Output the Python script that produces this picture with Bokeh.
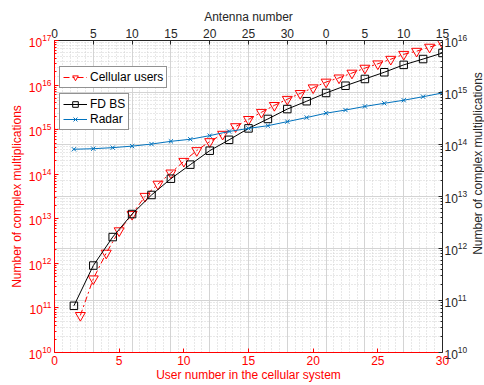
import math
from bokeh.plotting import figure
from bokeh.layouts import row
from bokeh.models import (Range1d, LogScale, LinearScale, LinearAxis, LogAxis, FixedTicker,
                          Grid, Legend, LegendItem, Label)
from bokeh.embed import file_html
from bokeh.resources import INLINE

# ---------------- data ----------------
users_x = [2, 3, 4, 5, 6, 7, 8, 9, 10, 11, 12, 13, 14, 15, 16, 17, 18, 19, 20,
           21, 22, 23, 24, 25, 26, 27, 28, 29, 30]
users_mults = [6.8e10, 4.5e11, 1.7e12, 5.4e12, 1.26e13, 3.2e13, 6.0e13, 1.07e14,
               1.95e14, 3.4e14, 5.4e14, 7.9e14, 1.17e15, 1.7e15, 2.45e15, 3.5e15,
               4.8e15, 6.5e15, 8.7e15, 1.17e16, 1.45e16, 1.86e16, 2.4e16, 3.0e16,
               3.8e16, 4.9e16, 5.75e16, 7.1e16, 8.7e16]

antenna_x = [1.5, 3, 4.5, 6, 7.5, 9, 10.5, 12, 13.5, 15, 16.5, 18, 19.5, 21, 22.5,
             24, 25.5, 27, 28.5, 30]
fdbs_mults = [7.9e10, 4.7e11, 1.66e12, 4.6e12, 1.07e13, 2.2e13, 4.1e13, 7.6e13,
              1.23e14, 2.04e14, 3.1e14, 4.8e14, 6.8e14, 9.8e14, 1.35e15, 1.82e15,
              2.45e15, 3.4e15, 4.4e15, 5.75e15]
radar_mults = [8.1e13, 8.3e13, 8.7e13, 9.3e13, 1.02e14, 1.15e14, 1.26e14, 1.48e14,
               1.78e14, 2.04e14, 2.3e14, 2.75e14, 3.3e14, 4.0e14, 4.6e14, 5.4e14,
               6.2e14, 7.1e14, 8.3e14, 9.8e14]

bottom_ticks = [0, 5, 10, 15, 20, 25, 30]
top_tick_labels = ["0", "5", "10", "15", "20", "25", "30", "0", "5", "10", "15"]
left_exponents = [10, 11, 12, 13, 14, 15, 16, 17]
right_exponents = [10, 11, 12, 13, 14, 15, 16]

# ---------------- styling ----------------
RED = "#ff0000"
BLUE = "#0072bd"
DARK = "#262626"
FONT = "Liberation Sans"
FW, FH = 388, 312
TOP, LEFT, RIGHT, BOTTOM = 40, 54, 26, 33
SIDE_W = 15
TOTAL_H = TOP + FH + BOTTOM


def log_ticks(exps):
    major = [10.0 ** e for e in exps]
    minor = [m * 10.0 ** e for e in exps[:-1] for m in range(2, 10)]
    return major, minor


p = figure(frame_width=FW, frame_height=FH,
           x_range=Range1d(0, 30), y_range=Range1d(1e10, 1e17),
           y_axis_type="log", x_axis_type="linear",
           x_axis_location=None, y_axis_location=None,
           output_backend="svg", toolbar_location=None,
           min_border_left=LEFT, min_border_right=RIGHT, min_border_top=TOP,
           min_border_bottom=BOTTOM)
p.outline_line_color = None
p.grid.visible = False
p.background_fill_color = "white"

p.extra_y_ranges = {"right": Range1d(1e10, 1e16)}
p.extra_y_scales = {"right": LogScale()}
p.extra_x_ranges = {"top": Range1d(0, len(top_tick_labels) - 1)}
p.extra_x_scales = {"top": LinearScale()}

# grids
n_top = len(top_tick_labels)
vgrid = Grid(dimension=0, x_range_name="top",
             ticker=FixedTicker(ticks=list(range(n_top)),
                                minor_ticks=[i / 5 for i in range(5 * (n_top - 1) + 1)]),
             grid_line_color="#d4d4d4", grid_line_width=1,
             minor_grid_line_color="#d0d0d0", minor_grid_line_dash="1 2", minor_grid_line_width=1)
rmaj, rmin = log_ticks(right_exponents)
hgrid = Grid(dimension=1, y_range_name="right",
             ticker=FixedTicker(ticks=rmaj, minor_ticks=rmin),
             grid_line_color="#d4d4d4", grid_line_width=1,
             minor_grid_line_color="#d0d0d0", minor_grid_line_dash="1 2", minor_grid_line_width=1)
p.add_layout(vgrid)
p.add_layout(hgrid)


def style_axis(ax, color, minor=True):
    ax.axis_line_color = color
    ax.axis_line_width = 1
    ax.major_tick_line_color = color
    ax.major_tick_in = 4
    ax.major_tick_out = 0
    if minor:
        ax.minor_tick_line_color = color
        ax.minor_tick_in = 2
        ax.minor_tick_out = 0
    else:
        ax.minor_tick_line_color = None
    ax.major_label_text_color = color
    ax.major_label_text_font = FONT
    ax.major_label_text_font_size = "12px"
    ax.major_label_standoff = 3
    ax.axis_label_text_color = color
    ax.axis_label_text_font = FONT
    ax.axis_label_text_font_size = "12px"
    ax.axis_label_text_font_style = "normal"
    ax.axis_label_standoff = 2


lmaj, lmin = log_ticks(left_exponents)
left_ax = LogAxis(ticker=FixedTicker(ticks=lmaj, minor_ticks=lmin),
                  axis_label="Number of complex multiplications")
style_axis(left_ax, RED)
p.add_layout(left_ax, "left")

right_ax = LogAxis(y_range_name="right", ticker=FixedTicker(ticks=rmaj, minor_ticks=rmin))
style_axis(right_ax, DARK)
right_ax.major_label_standoff = 2
p.add_layout(right_ax, "right")

bottom_ax = LinearAxis(ticker=FixedTicker(ticks=bottom_ticks),
                       axis_label="User number in the cellular system")
style_axis(bottom_ax, RED, minor=False)
bottom_ax.major_label_standoff = 3
bottom_ax.axis_label_standoff = 0
p.add_layout(bottom_ax, "below")

top_ax = LinearAxis(x_range_name="top", ticker=FixedTicker(ticks=list(range(n_top))),
                    axis_label="Antenna number")
style_axis(top_ax, DARK, minor=False)
top_ax.major_label_overrides = {i: lab for i, lab in enumerate(top_tick_labels)}
p.add_layout(top_ax, "above")

# series
u_line = p.line(users_x, users_mults, line_color=RED, line_width=1, line_dash="6 3 2 3")
u_mark = p.scatter(users_x, users_mults, marker="inverted_triangle", size=10,
                   line_color=RED, line_width=1, fill_color=None)

b_line = p.line(antenna_x, fdbs_mults, line_color="black", line_width=1, y_range_name="right")
b_mark = p.scatter(antenna_x, fdbs_mults, marker="square", size=7.5, line_color="black",
                   line_width=1, fill_color=None, y_range_name="right")

r_line = p.line(antenna_x, radar_mults, line_color=BLUE, line_width=1, y_range_name="right")
r_mark = p.scatter(antenna_x, radar_mults, marker="x", size=6, line_color=BLUE,
                   line_width=1, y_range_name="right")


def make_legend(items, loc):
    return Legend(items=items, location=loc, orientation="vertical",
                  label_text_font=FONT, label_text_font_size="12px",
                  label_text_color="#000000", label_standoff=3,
                  glyph_width=24, glyph_height=14, label_height=14,
                  padding=3, spacing=1, margin=0,
                  border_line_color=DARK, border_line_width=1,
                  background_fill_color="white", background_fill_alpha=1.0)


# location = bottom-left corner of each legend box, in pixels from the frame's bottom-left
leg1 = make_legend([LegendItem(label="Cellular users", renderers=[u_line, u_mark])], (5, FH - 48))
leg2 = make_legend([LegendItem(label="FD BS", renderers=[b_line, b_mark]),
                    LegendItem(label="Radar", renderers=[r_line, r_mark])], (5, FH - 90))
p.add_layout(leg1)
p.add_layout(leg2)

# narrow side strip carrying the right-hand axis title (reads bottom to top)
side = figure(width=SIDE_W, height=TOTAL_H, x_range=Range1d(0, 1), y_range=Range1d(0, 1),
              x_axis_location=None, y_axis_location=None, min_border=0,
              output_backend="svg", toolbar_location=None)
side.outline_line_color = None
side.grid.visible = False
side.add_layout(Label(x=SIDE_W / 2, y=TOTAL_H - (TOP + FH / 2), x_units="screen", y_units="screen",
                      text="Number of complex multiplications", angle=math.pi / 2,
                      text_align="center", text_baseline="middle",
                      text_font=FONT, text_font_size="12px", text_color=DARK))

layout = row(p, side, spacing=0)
open("out.html", "w").write(file_html(layout, INLINE))
